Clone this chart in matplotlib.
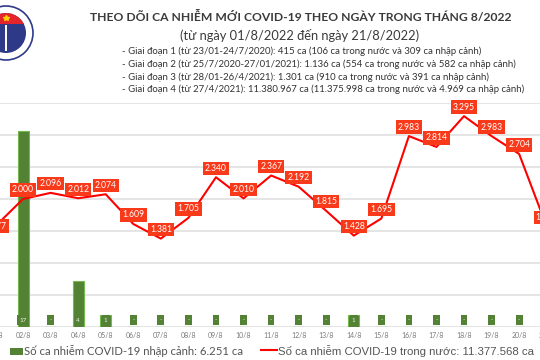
import matplotlib
matplotlib.use("Agg")
import matplotlib.pyplot as plt
import numpy as np
from matplotlib.patches import Circle, Rectangle

# du lieu
days = ["%02d/8" % d for d in range(1, 22)]
trong_nuoc = [1577, 2000, 2096, 2012, 2074, 1609, 1381, 1705, 2340, 2010, 2367,
              2192, 1815, 1428, 1695, 2983, 2814, 3295, 2983, 2704, 1570]
nhap_canh = [0, 17, 0, 4, 1, 0, 0, 0, 0, 0, 0, 0, 0, 1, 0, 0, 0, 0, 0, 0, 0]

title = "THEO DÕI CA NHIỄM MỚI COVID-19 THEO NGÀY TRONG THÁNG 8/2022"
subtitle = "(từ ngày 01/8/2022 đến ngày 21/8/2022)"
giai_doan = [
    "- Giai đoạn 1 (từ 23/01-24/7/2020): 415 ca (106 ca trong nước và 309 ca nhập cảnh)",
    "- Giai đoạn 2 (từ 25/7/2020-27/01/2021): 1.136 ca (554 ca trong nước và 582 ca nhập cảnh)",
    "- Giai đoạn 3 (từ 28/01-26/4/2021): 1.301 ca (910 ca trong nước và 391 ca nhập cảnh)",
    "- Giai đoạn 4 (từ 27/4/2021): 11.380.967 ca (11.375.998 ca trong nước và 4.969 ca nhập cảnh)",
]
legend_nc = "Số ca nhiễm COVID-19 nhập cảnh: 6.251 ca"
legend_tn = "Số ca nhiễm COVID-19 trong nước: 11.377.568 ca"

plt.rcParams["font.family"] = ["Lato", "DejaVu Sans"]

RED = "#ff0000"
LABEL_RED = "#f83a1a"
GREEN = "#548235"
GREEN_EDGE = "#74b84e"

fig = plt.figure(figsize=(5.4, 3.6), dpi=100)

# truc chinh keo dai ra ngoai hinh (anh goc bi cat hai ben)
W, H = 540.0, 360.0
step = 27.56
left_px = -4.5 - step / 2
ax_bar = fig.add_axes([left_px / W, 33 / H, 21 * step / W, 224 / H])
ax_line = ax_bar.twinx()

x = np.arange(len(days))
bar_top = 19.4
y_max = 3500

ax_bar.bar(x, nhap_canh, width=0.4, color=GREEN, edgecolor=GREEN_EDGE,
           linewidth=0.8, zorder=2)
ax_bar.set_ylim(0, bar_top)
ax_bar.set_xlim(-0.5, len(days) - 0.5)
ax_bar.set_yticks(np.arange(0, y_max + 1, 500) / y_max * bar_top)
ax_bar.set_yticklabels([])
ax_bar.grid(axis="y", color="#e3e3e3", linewidth=1.3, zorder=0)
ax_bar.set_axisbelow(True)
ax_bar.set_xticks(x)
ax_bar.set_xticklabels(days, fontsize=5, color="#7a7a7a")
ax_bar.tick_params(length=0, pad=3.5)
for i, v in enumerate(nhap_canh):
    ax_bar.annotate("-" if v == 0 else str(v), xy=(i, 0), xytext=(0, 5),
                    textcoords="offset points", ha="center", va="center",
                    fontsize=4.5, color="#eef5e8", zorder=3,
                    bbox=dict(boxstyle="square,pad=0.35", fc=GREEN, ec="none"))

ax_line.plot(x, trong_nuoc, color=RED, linewidth=1.5, zorder=3)
ax_line.set_ylim(0, y_max)
ax_line.set_yticks([])
for i, v in enumerate(trong_nuoc):
    dy = 0 if i == 0 else 6.5
    ax_line.annotate(f"{v:,}".replace(",", "."), xy=(i, v), xytext=(0, dy),
                     textcoords="offset points", ha="center", va="center",
                     fontsize=6.2, color="white", zorder=4,
                     bbox=dict(boxstyle="square,pad=0.25", fc=LABEL_RED, ec="none"))

for a in (ax_bar, ax_line):
    for s in a.spines.values():
        s.set_visible(False)

# lop phu theo pixel cho tieu de, chu thich, logo
ov = fig.add_axes([0, 0, 1, 1])
ov.set_xlim(0, W)
ov.set_ylim(H, 0)
ov.axis("off")
ov.patch.set_visible(False)

ov.text(301, 17, title, ha="center", va="center", fontsize=8.7,
        fontweight="bold", color="#3a3a3a")
ov.text(300, 35, subtitle, ha="center", va="center", fontsize=9.3,
        color="#3a3a3a")
for k, line in enumerate(giai_doan):
    ov.text(122, 51.7 + k * 12.6, line, ha="left", va="center", fontsize=6.9,
            color="#333333")

# legend
ov.add_patch(Rectangle((10, 347.5), 13, 7, fc=GREEN, ec="none"))
ov.text(24, 351, legend_nc, ha="left", va="center", fontsize=8.2,
        color="#555555")
ov.plot([261, 277], [350, 350], color=RED, linewidth=1.5)
ov.text(278, 351, legend_tn, ha="left", va="center", fontsize=8.2,
        color="#555555", family=["Liberation Sans", "DejaVu Sans"])

# logo (phong theo)
outer = Circle((6, 33), 27, fc="white", ec="#2e3a87", lw=1.2)
inner = Circle((6, 33), 20, fc="#2e3a87", ec="none")
ov.add_patch(outer)
ov.add_patch(inner)
cap = Rectangle((-20, 10), 60, 14, fc="#e4262c", ec="none")
ov.add_patch(cap)
cap.set_clip_path(inner)
ov.plot([6], [18], marker="*", color="#ffd200", markersize=4)
ov.plot([6, 6], [26, 50], color="white", linewidth=1.4)

fig.savefig("out.png", dpi=100)
